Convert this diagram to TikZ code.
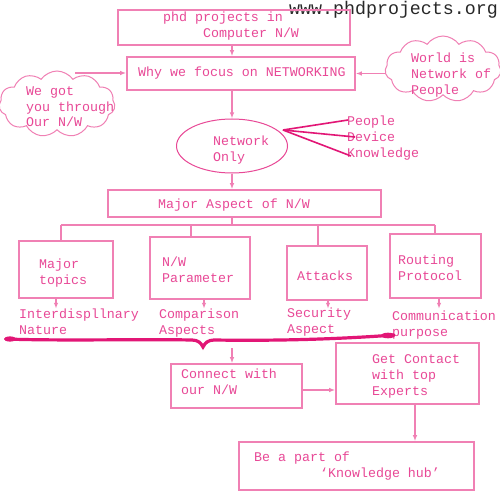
\documentclass[tikz,border=0pt]{standalone}
\usepackage{fontspec}
\newfontfamily\monof{Liberation Mono}
\usetikzlibrary{shapes.geometric,shapes.symbols,arrows.meta}
\definecolor{tpink}{RGB}{232,72,150}
\definecolor{bpink}{RGB}{240,128,180}
\definecolor{dpink}{RGB}{226,22,118}
\definecolor{webgray}{RGB}{40,40,40}
\tikzset{
  box/.style={draw=bpink,line width=1.6pt,inner sep=0pt},
  txt/.style={text=tpink,font=\monof\fontsize{13.3}{16}\selectfont,anchor=base west,inner sep=0pt,align=left},
  conn/.style={draw=bpink,line width=1.8pt},
  arr/.style={conn,-{Latex[open,length=6pt,width=4.5pt]}},
  spoke/.style={draw=dpink,line width=1.6pt},
  cloudshape/.style={cloud,draw=bpink,line width=1pt,cloud puffs=11,cloud puff arc=110,aspect=1.9,minimum width=116pt,minimum height=66pt,inner sep=0pt},
}
\begin{document}
\begin{tikzpicture}[x=1pt,y=-1pt]
\useasboundingbox[fill=white] (0,0) rectangle (500,500);
% web address
\node[anchor=base west,inner sep=0pt,text=webgray,font=\monof\fontsize{18.3}{20}\selectfont] (web) at (289,14.5) {www.phdprojects.org};
% title
\node[box,minimum width=232pt,minimum height=35pt] (t) at (234,27.5) {};
\node[txt] (tt1) at (163,22) {phd projects in};
\node[txt] (tt2) at (203,38) {Computer N/W};
% why box
\node[box,minimum width=228pt,minimum height=33pt] (w) at (241,73.5) {};
\node[txt] (wt) at (138,77) {Why we focus on NETWORKING};
% clouds
\node[cloudshape] (cl) at (57,104) {};
\node[txt] (clt) at (26,127) {We got\\you through\\Our N/W};
\node[cloudshape] (cr) at (443,69) {};
\node[txt] (crt) at (411,95) {World is\\Network of\\People};
% ellipse
\node[ellipse,draw=tpink,line width=1pt,minimum width=111pt,minimum height=54pt,inner sep=0pt] (e) at (232,146) {};
\node[txt] (et) at (213,161) {Network\\Only};
\node[txt] (p1) at (347,125) {People};
\node[txt] (p2) at (347,141) {Device};
\node[txt] (p3) at (347,157) {Knowledge};
% major aspect
\node[box,minimum width=273pt,minimum height=27pt] (m) at (244.5,203.5) {};
\node[txt] (mt) at (158,208) {Major Aspect of N/W};
% four boxes
\node[box,minimum width=94pt,minimum height=57pt] (b1) at (66,269.5) {};
\node[txt] (b1t) at (39,284) {Major\\topics};
\node[box,minimum width=100pt,minimum height=62pt] (b2) at (200,268) {};
\node[txt] (b2t) at (162,282) {N/W\\Parameter};
\node[box,minimum width=80pt,minimum height=54pt] (b3) at (327,273) {};
\node[txt] (b3t) at (297,280) {Attacks};
\node[box,minimum width=91pt,minimum height=64pt] (b4) at (435.5,266) {};
\node[txt] (b4t) at (398,280) {Routing\\Protocol};
% labels under boxes
\node[txt] (l1) at (19,334) {Interdispllnary\\Nature};
\node[txt] (l2) at (159,334) {Comparison\\Aspects};
\node[txt] (l3) at (287,333) {Security\\Aspect};
\node[txt] (l4) at (392,336) {Communication\\purpose};
% lower boxes
\node[box,minimum width=131pt,minimum height=44pt] (c) at (236.5,386) {};
\node[txt] (ct) at (181,394) {Connect with\\our N/W};
\node[box,minimum width=143pt,minimum height=61pt] (g) at (407.5,373.5) {};
\node[txt] (gt) at (372,395) {Get Contact\\with top\\Experts};
\node[box,minimum width=235pt,minimum height=48pt] (h) at (356.5,466) {};
\node[txt] (ht1) at (254,461) {Be a part of};
\node[txt] (ht2) at (320,477) {‘Knowledge hub’};
% coordinates
\coordinate (x232) at (232,0);
\coordinate (clr) at (75,73);
\coordinate (eo) at (283,130);
\coordinate (busM) at (232,225);
\coordinate (busL) at (61,225);
\coordinate (bus2) at (191,225);
\coordinate (bus3) at (318,225);
\coordinate (busR) at (435,225);
\coordinate (a1) at (56,0);
\coordinate (a2) at (204,0);
\coordinate (a3) at (328,0);
\coordinate (a4) at (439,0);
\coordinate (bd) at (232,348);
\coordinate (x415) at (415,0);
% connectors
\draw[arr] (t.south -| x232) -- (w.north -| x232);
\draw[arr] (clr) -- (clr -| w.west);
\draw[arr] (cr.west |- w.east) -- (w.east);
\draw[arr] (w.south -| x232) -- (e.north);
\draw[spoke] (eo) -- ([xshift=1pt]p1.west |- 0,120);
\draw[spoke] (eo) -- ([xshift=8pt]p2.west |- 0,137);
\draw[spoke] (eo) -- ([xshift=4pt]p3.west |- 0,156);
\draw[arr] (e.south) -- (m.north -| x232);
\draw[conn] (m.south -| x232) -- (busM);
\draw[conn] (busL) -- (busR);
\draw[conn] (busL) -- (busL |- b1.north);
\draw[conn] (bus2) -- (bus2 |- b2.north);
\draw[conn] (bus3) -- (bus3 |- b3.north);
\draw[conn] (busR) -- (busR |- b4.north);
\draw[arr,line width=1.2pt] (a1 |- b1.south) -- ++(0,10);
\draw[arr,line width=1.2pt] (a2 |- b2.south) -- ++(0,9);
\draw[arr,line width=1.2pt] (a3 |- b3.south) -- ++(0,8);
\draw[arr,line width=1.2pt] (a4 |- b4.south) -- ++(0,10);
% brace
\draw[draw=dpink,line width=3.2pt,line cap=round]
  (6,339) .. controls (60,341) and (140,339) .. (192,340)
  .. controls (198,340) and (201,343) .. (203,347)
  .. controls (205,343) and (208,340) .. (214,340)
  .. controls (280,341) and (340,339) .. (394,335);
\fill[dpink] (10,339) ellipse (6pt and 2.6pt);
\fill[dpink] (388,335.5) ellipse (7pt and 2.8pt);
\draw[arr] (bd) -- (bd |- c.north);
\draw[arr] ([yshift=-4pt]c.east) -- ([yshift=-4pt]c.east -| g.west);
\draw[arr] (g.south -| x415) -- (h.north -| x415);
\end{tikzpicture}
\end{document}
